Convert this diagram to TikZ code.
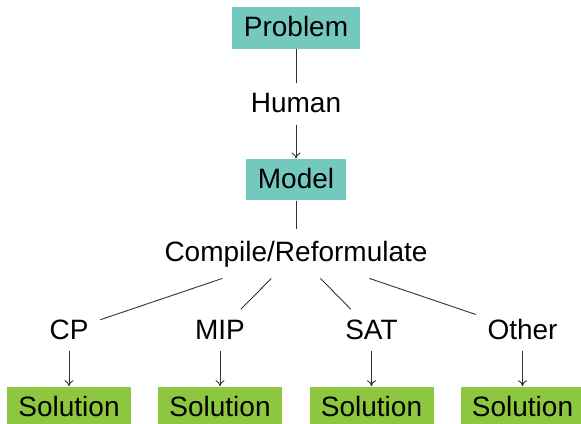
\documentclass[tikz,border=0pt]{standalone}
\usepackage{fontspec}
\setmainfont{Liberation Sans}
\usepackage{tikz}
\usetikzlibrary{arrows.meta}
\definecolor{boxteal}{RGB}{116,201,191}
\definecolor{boxgreen}{RGB}{141,198,63}

\begin{document}
\begin{tikzpicture}[
  x=0.5pt, y=-0.5pt,
  every node/.style={font=\fontsize{14}{17}\selectfont, anchor=base,
    inner xsep=5.7pt, inner ysep=5pt, text height=9.7pt, text depth=1pt},
  stage/.style={fill=boxteal},
  result/.style={fill=boxgreen},
  link/.style={line width=0.45pt, draw=black!80},
  arrow/.style={link, -{To[length=3pt,width=4.5pt]}},
]
\useasboundingbox (0,0) rectangle (581,423);

% Top chain
\node[stage] (problem) at (296,36.7) {Problem};
\node (human) at (296,112.7) {Human};
\node[stage] (model) at (296,188.3) {Model};
\node[inner ysep=6.3pt, text depth=2.2pt] (compile) at (296,261) {Compile/Reformulate};

% Solvers and their results
\foreach \name/\lbl/\x in {cp/CP/69, mip/MIP/220, sat/SAT/371.5, other/Other/522.5} {
  \node (\name) at (\x,339) {\lbl};
  \node[result] (sol-\name) at (\x,416) {Solution};
  \draw[link] (compile) -- (\name);
  \draw[arrow] (\name) -- (sol-\name);
}

% Flow
\draw[link] (problem) -- (human);
\draw[arrow] (human) -- (model);
\draw[link] (model) -- (compile);
\end{tikzpicture}
\end{document}
